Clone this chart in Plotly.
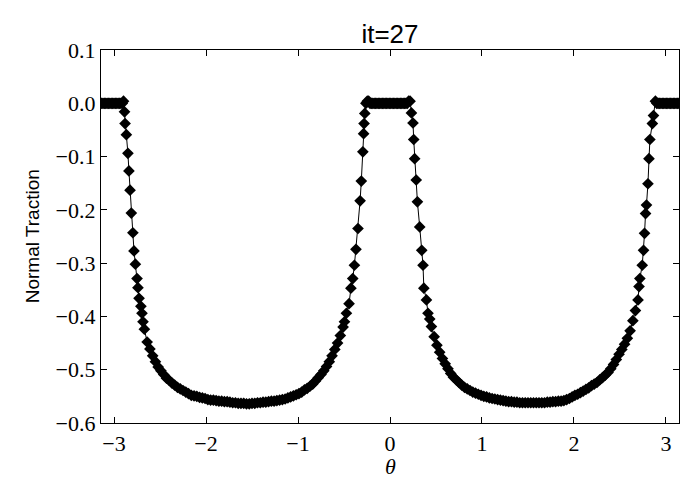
import numpy as np
import plotly.graph_objects as go

# ---- data (theta in rad, normal traction) ----
theta_left_flat = [-3.135, -3.12, -3.105, -3.09, -3.075, -3.06, -3.045, -3.03, -3.015, -3.0,
                   -2.985, -2.97, -2.955, -2.94, -2.925, -2.91, -2.897]
trac_left_flat = [0.0] * 16 + [0.004]

theta_lobe1 = [-2.886, -2.880, -2.866, -2.849, -2.838, -2.826, -2.812, -2.795, -2.783, -2.768,
               -2.750, -2.740, -2.728, -2.708, -2.696, -2.685,
               -2.67, -2.64, -2.61, -2.58, -2.55, -2.52, -2.49, -2.46, -2.43, -2.40,
               -2.37, -2.34, -2.31, -2.28, -2.25, -2.22, -2.19, -2.16, -2.13, -2.10,
               -2.07, -2.04, -2.01, -1.98, -1.95, -1.92, -1.89, -1.86, -1.83, -1.80,
               -1.77, -1.74, -1.71, -1.68, -1.65, -1.62, -1.59, -1.56, -1.53, -1.50,
               -1.47, -1.44, -1.41, -1.38, -1.35, -1.32, -1.29, -1.26, -1.23, -1.20,
               -1.17, -1.14, -1.11, -1.08, -1.05, -1.02, -0.99, -0.96, -0.93, -0.90,
               -0.87, -0.84, -0.81, -0.78, -0.75, -0.72, -0.69, -0.66, -0.63, -0.60,
               -0.57, -0.54, -0.51, -0.495, -0.474,
               -0.445, -0.425, -0.405, -0.387, -0.370, -0.348, -0.325, -0.312, -0.295,
               -0.287, -0.282, -0.274]
trac_lobe1 = [-0.016, -0.038, -0.059, -0.094, -0.127, -0.163, -0.206, -0.243, -0.277, -0.302,
              -0.329, -0.346, -0.366, -0.381, -0.394, -0.410,
              -0.424, -0.448, -0.461, -0.474, -0.485, -0.495, -0.502, -0.509, -0.516, -0.520,
              -0.525, -0.529, -0.533, -0.536, -0.539, -0.542, -0.545, -0.548, -0.549, -0.550,
              -0.552, -0.553, -0.554, -0.556, -0.557, -0.557, -0.558, -0.559, -0.559, -0.560,
              -0.560, -0.561, -0.562, -0.562, -0.563, -0.563, -0.563, -0.564, -0.564, -0.563,
              -0.563, -0.562, -0.562, -0.561, -0.561, -0.560, -0.559, -0.559, -0.558, -0.557,
              -0.556, -0.555, -0.553, -0.551, -0.549, -0.547, -0.545, -0.542, -0.538, -0.535,
              -0.531, -0.527, -0.521, -0.515, -0.509, -0.502, -0.494, -0.485, -0.474, -0.462,
              -0.450, -0.436, -0.420, -0.410, -0.394,
              -0.376, -0.347, -0.329, -0.304, -0.274, -0.235, -0.183, -0.146, -0.091,
              -0.057, -0.038, -0.019]

theta_mid_flat = [-0.262, -0.247, -0.232, -0.217, -0.202, -0.187, -0.172, -0.157, -0.142, -0.127,
                  -0.112, -0.097, -0.082, -0.067, -0.052, -0.037, -0.022, -0.007, 0.008, 0.023,
                  0.038, 0.053, 0.068, 0.083, 0.098, 0.113, 0.128, 0.143, 0.158, 0.173,
                  0.188, 0.203, 0.218]
trac_mid_flat = [0.0, 0.004, 0.004] + [0.0] * 28 + [0.004, 0.004]

theta_lobe2 = [0.233, 0.250, 0.258, 0.268, 0.285, 0.298, 0.323, 0.345, 0.359, 0.368,
               0.396, 0.413, 0.432,
               0.45, 0.48, 0.51, 0.54, 0.57, 0.60, 0.63, 0.66, 0.69, 0.72,
               0.75, 0.78, 0.81, 0.84, 0.87, 0.90, 0.93, 0.96, 0.99, 1.02,
               1.05, 1.08, 1.11, 1.14, 1.17, 1.20, 1.23, 1.26, 1.29, 1.32,
               1.35, 1.38, 1.41, 1.44, 1.47, 1.50, 1.53, 1.56, 1.59, 1.62,
               1.65, 1.68, 1.71, 1.74, 1.77, 1.80, 1.83, 1.86, 1.89, 1.92,
               1.95, 1.98, 2.01, 2.04, 2.07, 2.10, 2.13, 2.16, 2.19, 2.22,
               2.25, 2.28, 2.31, 2.34, 2.37, 2.40, 2.43, 2.46, 2.49, 2.52,
               2.55, 2.58, 2.61, 2.64, 2.668,
               2.696, 2.707, 2.716, 2.742, 2.756, 2.767, 2.778, 2.788, 2.804, 2.815,
               2.825, 2.852, 2.864]
trac_lobe2 = [-0.018, -0.037, -0.068, -0.104, -0.144, -0.185, -0.232, -0.276, -0.304, -0.347,
              -0.369, -0.394, -0.405,
              -0.419, -0.438, -0.454, -0.467, -0.479, -0.489, -0.498, -0.507, -0.514, -0.519,
              -0.524, -0.529, -0.533, -0.536, -0.539, -0.542, -0.544, -0.546, -0.548, -0.550,
              -0.551, -0.553, -0.554, -0.555, -0.556, -0.557, -0.558, -0.559, -0.560, -0.560,
              -0.561, -0.561, -0.562, -0.562, -0.562, -0.562, -0.562, -0.562, -0.562, -0.562,
              -0.562, -0.562, -0.561, -0.561, -0.560, -0.560, -0.559, -0.559, -0.558, -0.556,
              -0.554, -0.551, -0.548, -0.546, -0.543, -0.540, -0.537, -0.534, -0.530, -0.527,
              -0.524, -0.519, -0.515, -0.510, -0.505, -0.498, -0.490, -0.481, -0.471, -0.462,
              -0.452, -0.441, -0.427, -0.408, -0.389,
              -0.369, -0.344, -0.329, -0.304, -0.276, -0.244, -0.207, -0.191, -0.151, -0.104,
              -0.068, -0.038, -0.023]

theta_right_flat = [2.885, 2.90, 2.915, 2.93, 2.945, 2.96, 2.975, 2.99, 3.005, 3.02,
                    3.035, 3.05, 3.065, 3.08, 3.095, 3.11, 3.125, 3.14]
trac_right_flat = [0.004] + [0.0] * 17

x_ticks = [-3, -2, -1, 0, 1, 2, 3]
x_tick_labels = ["\u22123", "\u22122", "\u22121", "0", "1", "2", "3"]
y_ticks = [-0.6, -0.5, -0.4, -0.3, -0.2, -0.1, 0.0, 0.1]
y_tick_labels = ["\u22120.6", "\u22120.5", "\u22120.4", "\u22120.3", "\u22120.2", "\u22120.1", "0.0", "0.1"]

theta = theta_left_flat + theta_lobe1 + theta_mid_flat + theta_lobe2 + theta_right_flat
traction = trac_left_flat + trac_lobe1 + trac_mid_flat + trac_lobe2 + trac_right_flat

fig = go.Figure(
    go.Scatter(
        x=theta, y=traction, mode="lines+markers",
        line=dict(color="black", width=1),
        marker=dict(symbol="diamond", size=9, color="black"),
        showlegend=False,
    )
)

serif = "Liberation Serif, DejaVu Serif, serif"
sans = "Liberation Sans, Arial, sans-serif"

axis_common = dict(
    showline=True, linecolor="black", linewidth=1.2, mirror="allticks",
    ticks="inside", ticklen=6, tickwidth=1, tickcolor="black",
    showgrid=False, zeroline=False,
    tickfont=dict(family=serif, size=22, color="black"),
)

# the page adds an 8 px body margin, so margins are offset by 8 px
fig.update_layout(
    width=700, height=500,
    margin=dict(l=93, r=29, t=42, b=85),
    plot_bgcolor="white", paper_bgcolor="white",
    title=dict(text="it=27", x=0.5, xref="paper", xanchor="center",
               y=0.948, yref="container", yanchor="middle",
               font=dict(family=sans, size=26, color="black")),
    xaxis=dict(range=[-np.pi, np.pi], tickvals=x_ticks, ticktext=x_tick_labels, **axis_common),
    yaxis=dict(range=[-0.6, 0.1], tickvals=y_ticks, ticktext=y_tick_labels, **axis_common),
    annotations=[
        dict(text="Normal Traction", textangle=-90, x=-0.118, y=0.5, xref="paper", yref="paper",
             xanchor="center", yanchor="middle", showarrow=False,
             font=dict(family=sans, size=19, color="black")),
        dict(text="<i>\u03b8</i>", x=0.5, y=-0.117, xref="paper", yref="paper",
             xanchor="center", yanchor="middle", showarrow=False,
             font=dict(family=serif, size=22, color="black")),
    ],
)

fig.write_html("out.html")
